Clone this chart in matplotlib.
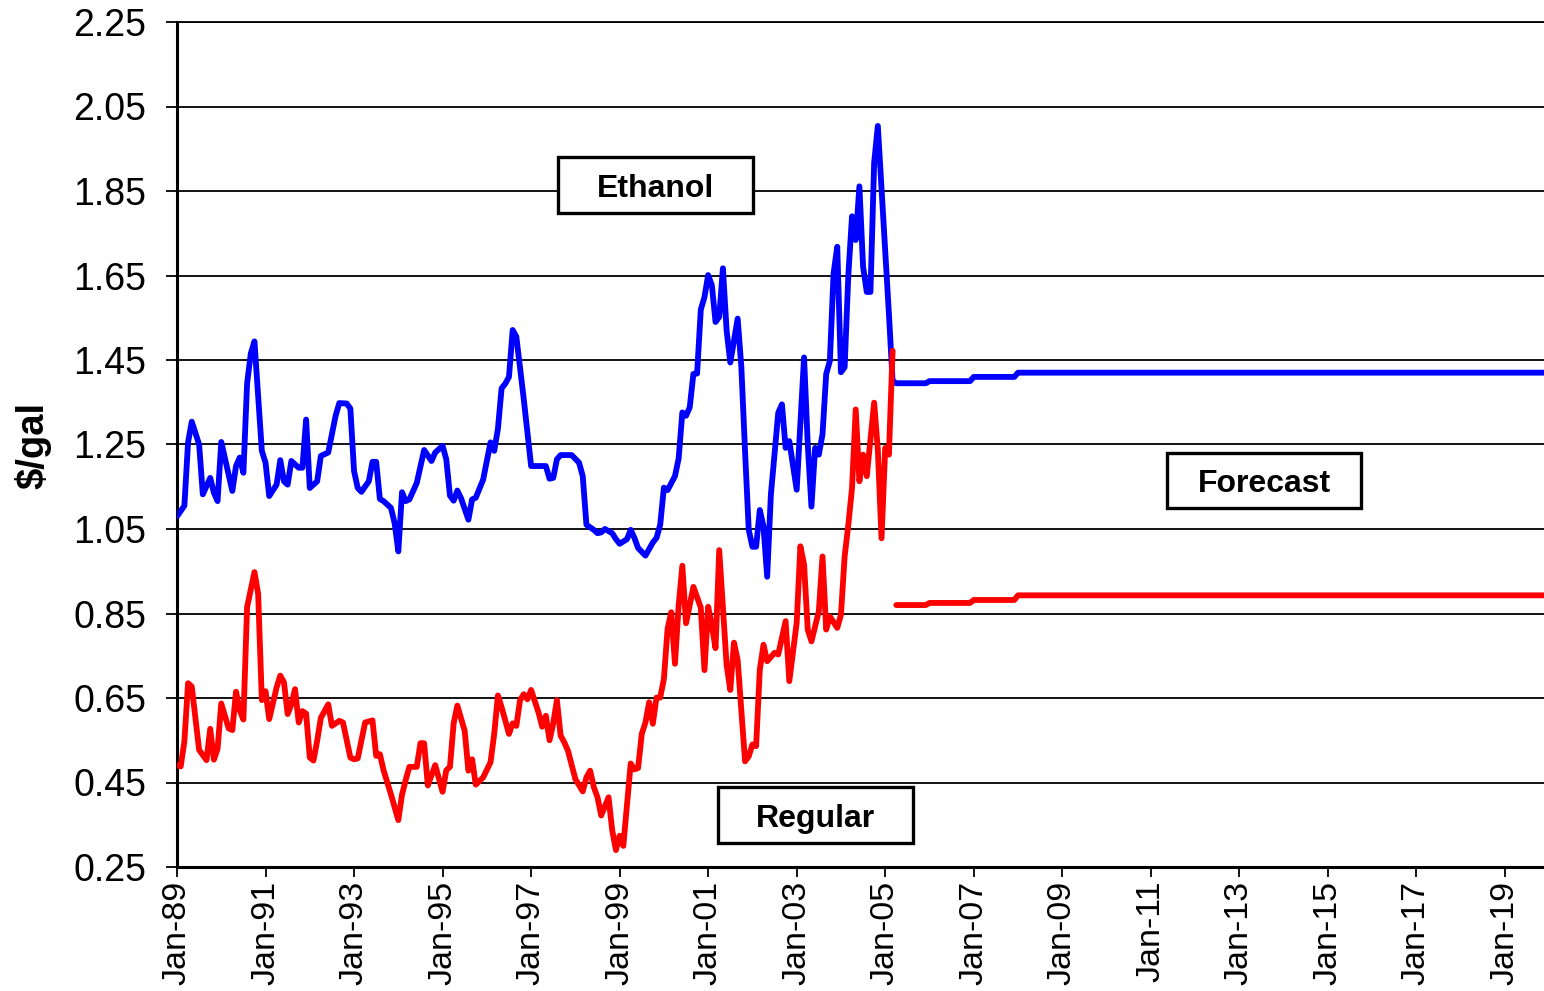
import matplotlib
matplotlib.use('Agg')
import matplotlib.pyplot as plt
from matplotlib.patches import Rectangle

plt.rcParams['font.family'] = ['Liberation Sans', 'DejaVu Sans']

# ---- data (months counted from Jan-1989) ----
ethanol_month = [0, 2, 3, 4, 6, 7, 9, 10, 11, 12, 15, 16, 17, 18, 19, 20, 21, 23, 24, 25,
                 27, 28, 29, 30, 31, 33, 34, 35, 36, 38, 39, 41, 43, 44, 46, 47, 48, 49, 50, 52,
                 53, 54, 55, 56, 58, 59, 60, 61, 62, 63, 65, 67, 69, 70, 72, 73, 74, 75, 76, 77,
                 79, 80, 81, 83, 85, 86, 87, 88, 89, 90, 91, 92, 94, 95, 96, 98, 100, 101, 102, 103,
                 104, 107, 109, 110, 111, 113, 114, 115, 116, 118, 119, 120, 122, 123, 124, 125, 127, 129, 130, 131,
                 132, 133, 135, 136, 137, 138, 139, 140, 141, 142, 143, 144, 145, 146, 147, 148, 149, 150, 152, 153,
                 154, 155, 156, 157, 158, 159, 160, 161, 163, 164, 165, 166, 168, 170, 171, 172, 173, 174, 175, 176,
                 177, 178, 179, 180, 181, 182, 183, 184, 185, 186, 187, 188, 189, 190, 192, 193, 194]
ethanol_price = [1.08, 1.105, 1.255, 1.304, 1.25, 1.132, 1.171, 1.136, 1.116, 1.256, 1.14, 1.199, 1.219, 1.183, 1.394, 1.465, 1.494, 1.235, 1.207, 1.128,
                 1.155, 1.213, 1.163, 1.155, 1.211, 1.195, 1.195, 1.309, 1.147, 1.163, 1.223, 1.231, 1.318, 1.348, 1.347, 1.335, 1.187, 1.147, 1.138, 1.163,
                 1.209, 1.209, 1.121, 1.116, 1.10, 1.064, 0.997, 1.137, 1.116, 1.12, 1.159, 1.237, 1.211, 1.231, 1.247, 1.215, 1.129, 1.117, 1.141, 1.123,
                 1.072, 1.12, 1.124, 1.167, 1.255, 1.235, 1.287, 1.383, 1.394, 1.41, 1.521, 1.505, 1.358, 1.279, 1.199, 1.199, 1.199, 1.169, 1.171, 1.215,
                 1.225, 1.225, 1.207, 1.175, 1.06, 1.048, 1.04, 1.042, 1.05, 1.04, 1.026, 1.015, 1.026, 1.048, 1.029, 1.005, 0.987, 1.018, 1.029, 1.06,
                 1.148, 1.142, 1.175, 1.217, 1.326, 1.318, 1.338, 1.417, 1.418, 1.569, 1.599, 1.651, 1.627, 1.54, 1.552, 1.667, 1.52, 1.444, 1.548, 1.433,
                 1.234, 1.048, 1.008, 1.008, 1.095, 1.056, 0.937, 1.131, 1.325, 1.345, 1.242, 1.258, 1.143, 1.456, 1.25, 1.103, 1.242, 1.226, 1.274, 1.417,
                 1.448, 1.655, 1.718, 1.421, 1.433, 1.651, 1.79, 1.734, 1.861, 1.671, 1.611, 1.611, 1.917, 2.004, 1.71, 1.56, 1.401]

regular_month = [0, 1, 2, 3, 4, 6, 8, 9, 10, 11, 12, 14, 15, 16, 17, 18, 19, 21, 22, 23,
                 24, 25, 27, 28, 29, 30, 31, 32, 33, 34, 35, 36, 37, 38, 39, 41, 42, 44, 45, 47,
                 48, 49, 51, 53, 54, 55, 56, 58, 60, 61, 62, 63, 65, 66, 67, 68, 70, 72, 73, 74,
                 75, 76, 78, 79, 80, 81, 83, 85, 86, 87, 88, 90, 91, 92, 93, 94, 95, 96, 98, 99,
                 100, 101, 102, 103, 104, 105, 106, 108, 110, 111, 112, 113, 114, 115, 117, 118, 119, 120, 121, 123,
                 124, 125, 126, 127, 128, 129, 130, 131, 132, 133, 134, 135, 136, 137, 138, 140, 142, 143, 144, 145,
                 146, 147, 149, 150, 151, 152, 154, 155, 156, 157, 158, 159, 160, 162, 163, 165, 166, 168, 169, 170,
                 171, 172, 174, 175, 176, 177, 179, 180, 181, 182, 183, 184, 185, 186, 187, 189, 190, 191, 192, 193, 194]
regular_price = [0.491, 0.488, 0.547, 0.685, 0.677, 0.527, 0.503, 0.577, 0.504, 0.53, 0.637, 0.578, 0.574, 0.665, 0.621, 0.599, 0.865, 0.948, 0.897, 0.645,
                 0.666, 0.60, 0.675, 0.703, 0.687, 0.612, 0.635, 0.671, 0.592, 0.619, 0.613, 0.509, 0.502, 0.549, 0.603, 0.635, 0.584, 0.596, 0.592, 0.509,
                 0.505, 0.507, 0.592, 0.597, 0.513, 0.517, 0.479, 0.422, 0.361, 0.421, 0.456, 0.487, 0.487, 0.543, 0.543, 0.443, 0.491, 0.428, 0.479, 0.487,
                 0.59, 0.632, 0.572, 0.478, 0.505, 0.445, 0.462, 0.498, 0.565, 0.656, 0.628, 0.565, 0.59, 0.584, 0.645, 0.659, 0.647, 0.669, 0.616, 0.582,
                 0.608, 0.55, 0.59, 0.645, 0.561, 0.545, 0.525, 0.458, 0.429, 0.462, 0.478, 0.439, 0.415, 0.372, 0.415, 0.336, 0.29, 0.324, 0.30, 0.495,
                 0.481, 0.484, 0.565, 0.592, 0.64, 0.589, 0.651, 0.651, 0.695, 0.814, 0.853, 0.731, 0.869, 0.963, 0.827, 0.913, 0.864, 0.716, 0.866, 0.821,
                 0.768, 1.0, 0.728, 0.669, 0.781, 0.74, 0.5, 0.512, 0.54, 0.536, 0.717, 0.776, 0.737, 0.757, 0.753, 0.832, 0.69, 0.828, 1.009, 0.966,
                 0.812, 0.784, 0.855, 0.985, 0.812, 0.843, 0.816, 0.847, 0.985, 1.06, 1.147, 1.333, 1.163, 1.226, 1.175, 1.349, 1.238, 1.028, 1.242, 1.226, 1.472]

forecast_years = list(range(2005, 2020))
ethanol_forecast = [1.395, 1.40, 1.41, 1.42, 1.42, 1.42, 1.42, 1.42, 1.42, 1.42, 1.42, 1.42, 1.42, 1.42, 1.42]
regular_forecast = [0.87, 0.875, 0.882, 0.893, 0.893, 0.893, 0.893, 0.893, 0.893, 0.893, 0.893, 0.893, 0.893, 0.893, 0.893]
forecast_first_month = 195   # Apr-05
forecast_last_month = 371    # Dec-19

xtick_labels = ['Jan-89', 'Jan-91', 'Jan-93', 'Jan-95', 'Jan-97', 'Jan-99', 'Jan-01', 'Jan-03',
                'Jan-05', 'Jan-07', 'Jan-09', 'Jan-11', 'Jan-13', 'Jan-15', 'Jan-17', 'Jan-19']
ytick_values = [0.25, 0.45, 0.65, 0.85, 1.05, 1.25, 1.45, 1.65, 1.85, 2.05, 2.25]

# expand annual forecast values to monthly steps
fc_months = list(range(forecast_first_month, forecast_last_month + 1))
eth_fc = [ethanol_forecast[(1989 + m // 12) - forecast_years[0]] for m in fc_months]
reg_fc = [regular_forecast[(1989 + m // 12) - forecast_years[0]] for m in fc_months]

W, H = 1544, 991
fig = plt.figure(figsize=(W / 100, H / 100), dpi=100)
ax = fig.add_axes([177 / W, 1 - 867 / H, (1544 - 177) / W, (867 - 22) / H])

lw = 4.2
ax.plot(ethanol_month + fc_months, ethanol_price + eth_fc, color='#0000FF', lw=lw,
        solid_joinstyle='round', solid_capstyle='round', zorder=3)
ax.plot(regular_month, regular_price, color='#FF0000', lw=lw,
        solid_joinstyle='round', solid_capstyle='round', zorder=3)
ax.plot(fc_months, reg_fc, color='#FF0000', lw=lw,
        solid_joinstyle='round', solid_capstyle='round', zorder=3)

ax.set_xlim(0, 370.6)
ax.set_ylim(0.25, 2.25)
ax.set_yticks(ytick_values)
ax.set_yticklabels([f'{v:.2f}' for v in ytick_values], fontsize=27)
ax.set_xticks(list(range(0, 361, 24)))
ax.set_xticklabels(xtick_labels, rotation=90, fontsize=24.5)

ax.grid(axis='y', color='black', lw=1.3, zorder=1)
ax.set_axisbelow(True)
ax.spines['right'].set_visible(False)
ax.spines['top'].set_linewidth(1.3)
ax.spines['left'].set_linewidth(2.2)
ax.spines['bottom'].set_linewidth(2.2)
ax.tick_params(axis='y', direction='out', length=8, width=1.3, pad=14)
ax.tick_params(axis='x', direction='out', length=7, width=1.3, pad=3)

fig.text(33 / W, 1 - 445 / H, '$/gal', rotation=90, ha='center', va='center',
         fontsize=27.5, fontweight='bold')

def box(x0, y0, x1, y1, label):
    fig.add_artist(Rectangle((x0 / W, 1 - y1 / H), (x1 - x0) / W, (y1 - y0) / H,
                             transform=fig.transFigure, facecolor='white',
                             edgecolor='black', lw=2.4, zorder=5))
    fig.text((x0 + x1) / 2 / W, 1 - ((y0 + y1) / 2 + 4) / H, label, ha='center', va='center',
             fontsize=23, fontweight='bold', zorder=6)

box(558, 157, 753, 213, 'Ethanol')
box(1167, 453, 1361, 508, 'Forecast')
box(718, 787, 913, 843, 'Regular')

fig.savefig('out.png', dpi=100)
